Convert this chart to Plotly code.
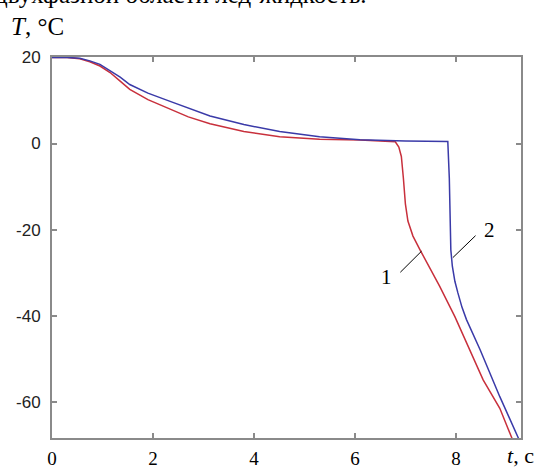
import plotly.graph_objects as go

# Curve 1 (red)
t1 = [0, 0.3, 0.55, 0.75, 0.95, 1.15, 1.35, 1.54, 1.9, 2.34, 2.7, 3.13, 3.8, 4.51, 5.3, 6.1, 6.72,
      6.8, 6.87, 6.92, 6.96, 7.0, 7.05, 7.15, 7.29, 7.5, 7.68, 7.98, 8.54, 8.87, 9.13]
T1 = [20, 20, 19.7, 19.0, 18.0, 16.5, 14.5, 12.6, 10.2, 8.1, 6.2, 4.6, 2.8, 1.6, 1.0, 0.8, 0.6,
      0.4, -0.8, -3.0, -8.0, -14.0, -18.0, -21.5, -24.7, -29.3, -33.2, -40.2, -54.9, -61.5, -69]

# Curve 2 (blue)
t2 = [0, 0.3, 0.55, 0.75, 0.95, 1.15, 1.35, 1.54, 1.9, 2.34, 2.7, 3.13, 3.8, 4.51, 5.3, 6.1, 7.0, 7.84,
      7.87, 7.9, 7.93, 7.98, 8.04, 8.12, 8.21, 8.48, 8.87, 9.26]
T2 = [20, 20, 19.8, 19.2, 18.4, 17.0, 15.4, 13.7, 11.7, 9.8, 8.2, 6.4, 4.4, 2.8, 1.6, 0.9, 0.6, 0.5,
      -8, -24.7, -28.5, -32.0, -34.7, -38.0, -40.9, -47.9, -58.8, -69]

x_ticks = [0, 2, 4, 6, 8]
y_ticks = [-60, -40, -20, 0, 20]

AX = "#8a8a8a"

fig = go.Figure()
fig.add_trace(go.Scatter(x=t1, y=T1, mode="lines",
                         line=dict(color="#c8303c", width=1.5), showlegend=False))
fig.add_trace(go.Scatter(x=t2, y=T2, mode="lines",
                         line=dict(color="#3a3aa8", width=1.5), showlegend=False))

# leader lines
fig.add_shape(type="line", x0=6.90, y0=-29.9, x1=7.32, y1=-25.0, line=dict(color="black", width=1))
fig.add_shape(type="line", x0=7.94, y0=-26.5, x1=8.39, y1=-21.4, line=dict(color="black", width=1))

serif = "Liberation Serif"
fig.add_annotation(x=6.63, y=-30.9, text="1", showarrow=False, font=dict(family=serif, size=21, color="black"))
fig.add_annotation(x=8.67, y=-20.0, text="2", showarrow=False, font=dict(family=serif, size=21, color="black"))

fig.add_annotation(xref="paper", yref="paper", x=-0.092, y=1.08, xanchor="left", yanchor="middle",
                   text="<i>T</i>, °C", showarrow=False, font=dict(family=serif, size=25, color="black"))
fig.add_annotation(xref="paper", yref="paper", x=0.966, y=-0.047, xanchor="left", yanchor="middle",
                   text="<i>t</i>, с", showarrow=False, font=dict(family=serif, size=22, color="black"))
fig.add_annotation(xref="paper", yref="paper", x=-0.125, y=1.163, xanchor="left", yanchor="middle",
                   text="двухфазной области лед-жидкость.", showarrow=False,
                   font=dict(family=serif, size=25, color="black"))

fig.update_xaxes(range=[0, 9.29], tickvals=x_ticks, ticktext=[str(v) for v in x_ticks],
                 showline=True, linecolor=AX, linewidth=2, mirror="ticks",
                 ticks="inside", ticklen=5, tickcolor=AX, tickwidth=1.5,
                 showgrid=False, zeroline=False, ticklabelstandoff=2, automargin=False,
                 tickfont=dict(family=serif, size=19, color="black"))
fig.update_yaxes(range=[-68.4, 20.1], tickvals=y_ticks, ticktext=[str(v) for v in y_ticks],
                 showline=True, linecolor=AX, linewidth=2, mirror="ticks",
                 ticks="inside", ticklen=5, tickcolor=AX, tickwidth=1.5,
                 showgrid=False, zeroline=False, ticklabelstandoff=6, automargin=False,
                 tickfont=dict(family="Liberation Sans", size=17, color="#222"))

fig.update_layout(width=549, height=471, autosize=False,
                  margin=dict(l=52, r=28, t=57, b=33),
                  paper_bgcolor="white", plot_bgcolor="white")

fig.write_html("out.html")
